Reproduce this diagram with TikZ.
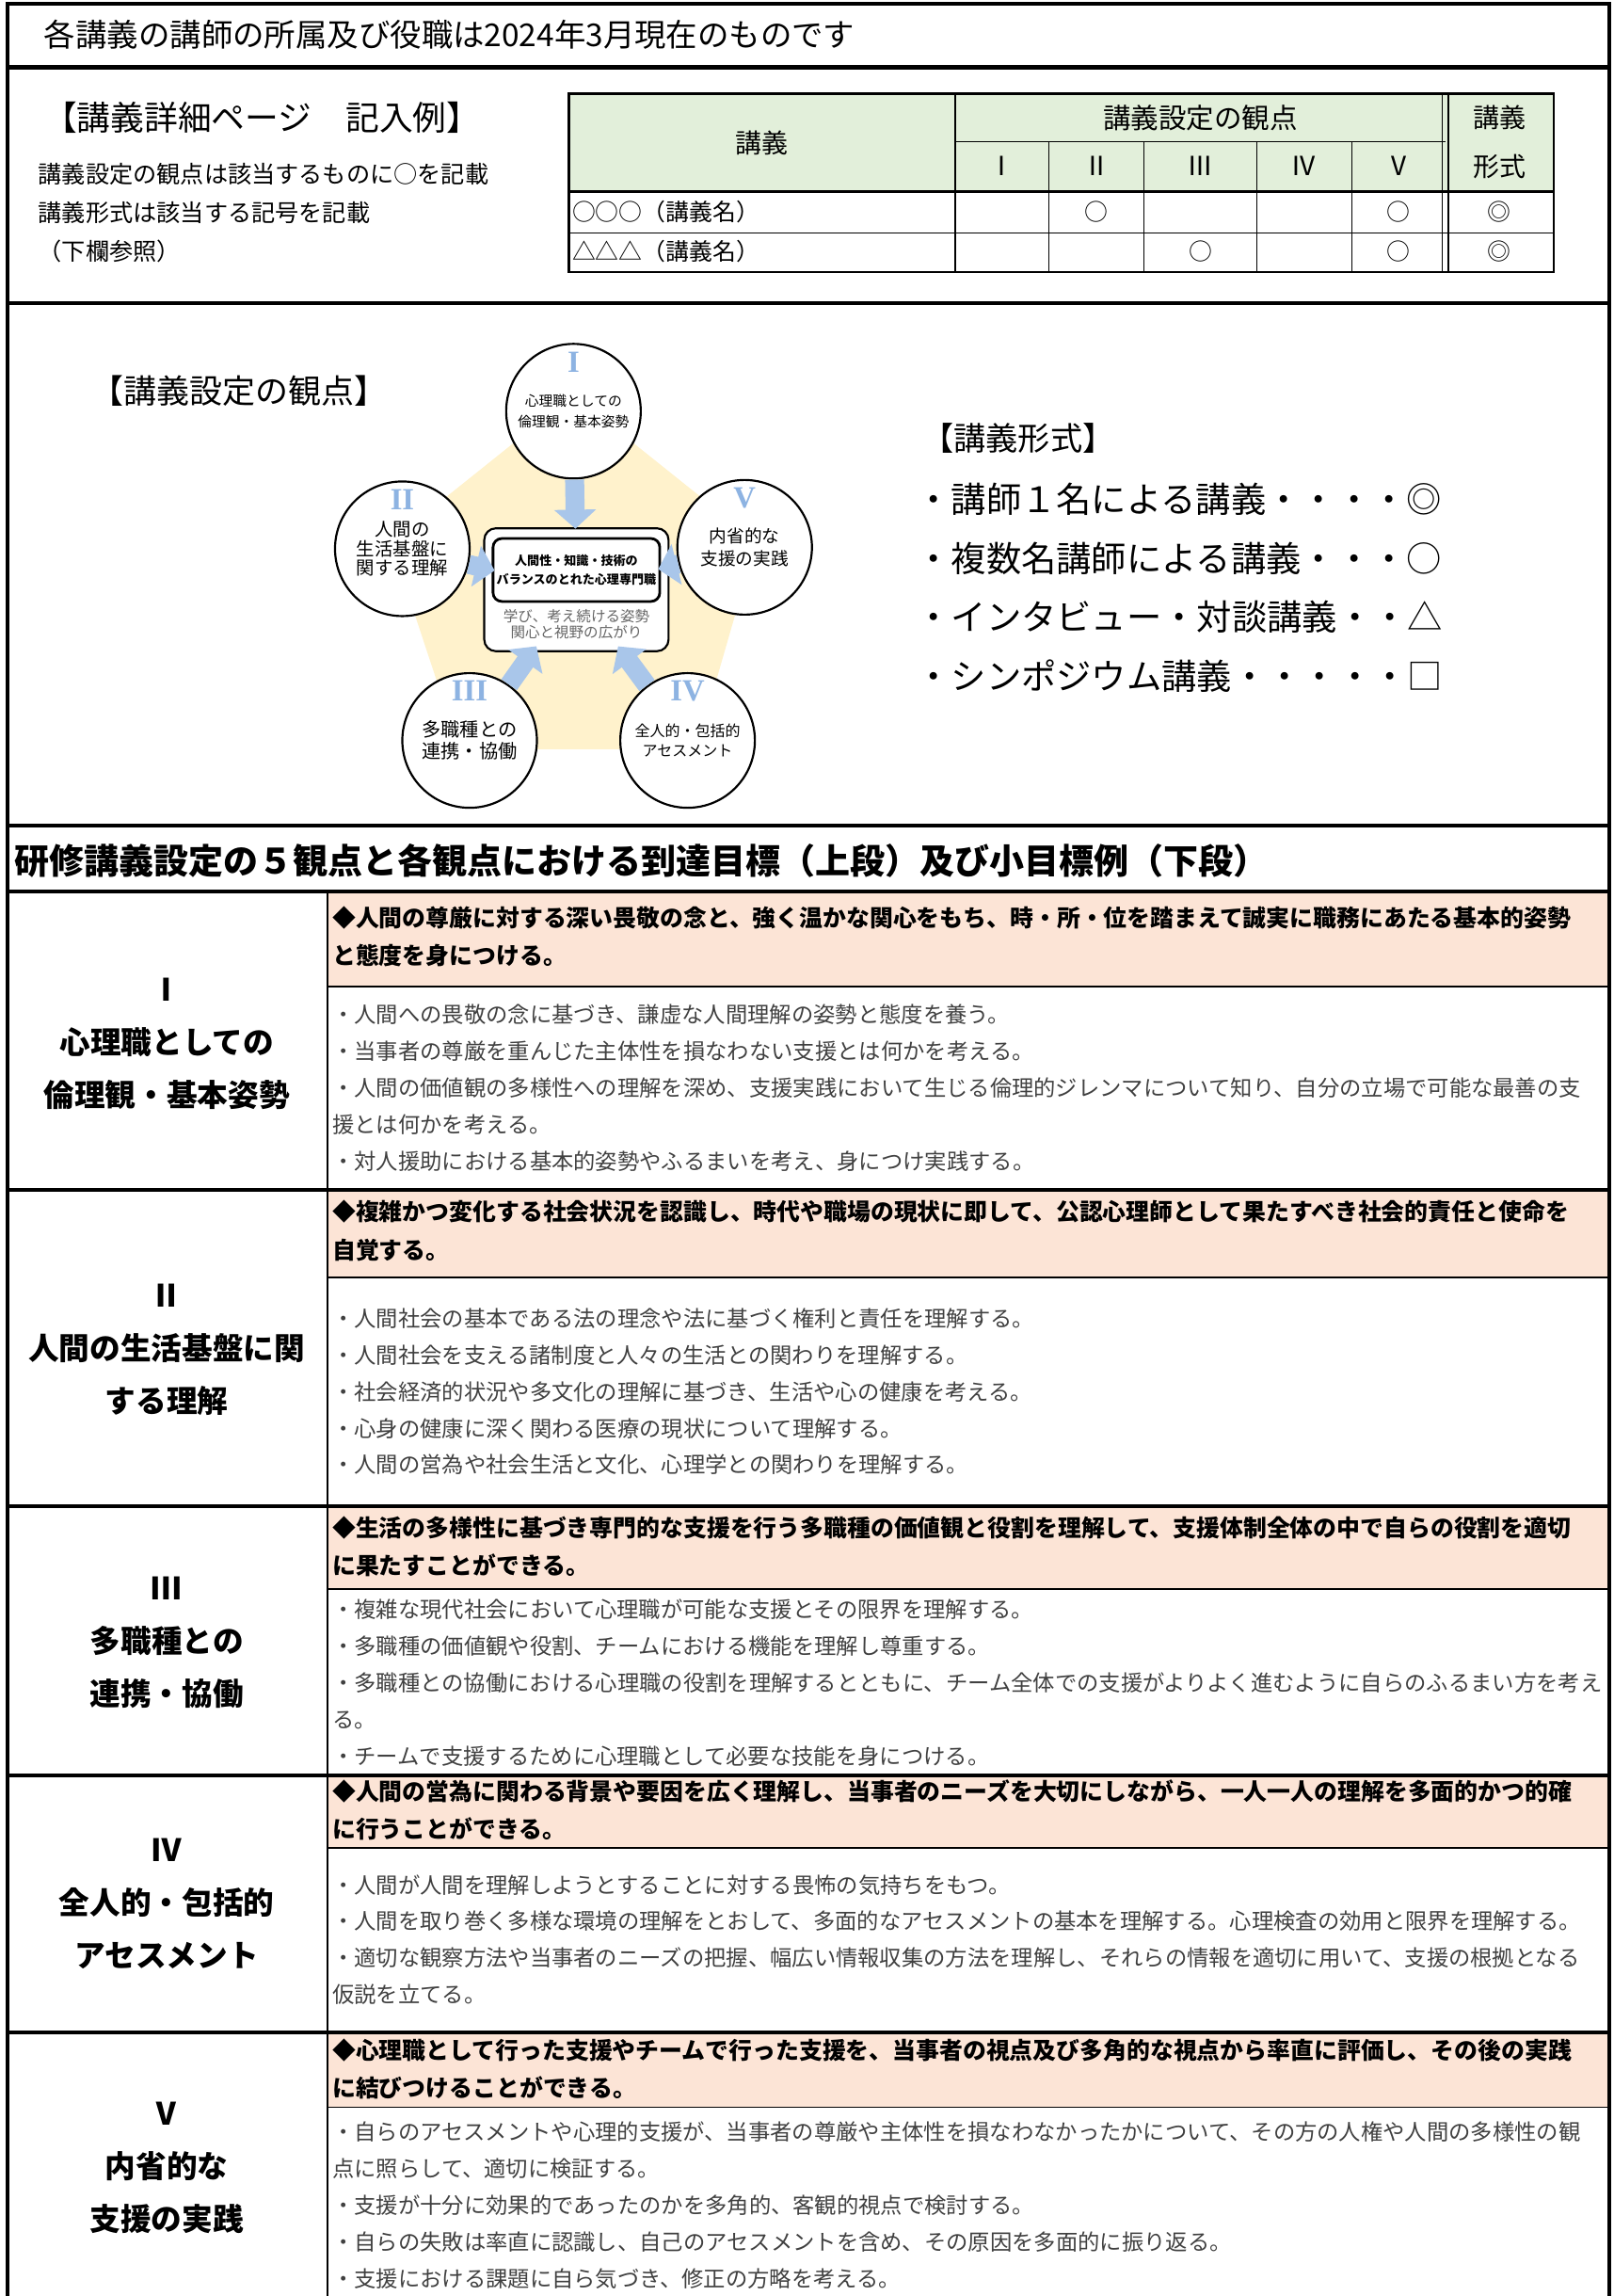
\documentclass[tikz,border=0pt]{standalone}
\usepackage{fontspec}
\setmainfont{Noto Sans CJK JP}
\newfontfamily\numfont{Liberation Serif}
\usetikzlibrary{arrows.meta,positioning,calc}
\definecolor{goalpink}{HTML}{FCE4D6}
\definecolor{headgreen}{HTML}{E2EFDA}
\definecolor{pentayellow}{HTML}{FFF2CC}
\definecolor{arrowblue}{HTML}{A9C6EA}
\definecolor{numblue}{HTML}{8DB3E2}
\definecolor{bodygray}{HTML}{404040}
\tikzset{
  outer rule/.style={line width=2.6pt},
  thin rule/.style={line width=1.2pt},
  grid rule/.style={line width=0.8pt},
  goal/.style={anchor=base west,inner sep=0pt,align=left,font=\bfseries\fontsize{16}{26}\selectfont},
  subgoal/.style={anchor=base west,inner sep=0pt,align=left,text=bodygray,font=\fontsize{15}{25}\selectfont},
  viewpoint/.style={anchor=base,inner sep=0pt,align=center,font=\bfseries\fontsize{21}{36}\selectfont},
  viewcircle/.style={circle,draw,line width=1.4pt,fill=white,minimum size=92pt,inner sep=0pt,align=center},
  numeral/.style={inner sep=0pt,text=numblue,font=\numfont\bfseries\fontsize{21}{21}\selectfont},
  block arrow/.style={arrowblue,line width=13pt,-{Triangle[width=28pt,length=13pt]}},
  tabcell/.style={inner sep=0pt,font=\fontsize{16}{16}\selectfont},
}
\begin{document}
\begin{tikzpicture}[x=1pt,y=-1pt]
\useasboundingbox (0,0) rectangle (1103,1569);
\foreach \t/\b in {609/674,813/873,1029/1086,1213/1263,1389/1440}
  \fill[goalpink] (224,\t) rectangle (1100,\b);
\foreach \b in {674,873,1086,1263,1440}
  \draw[thin rule] (224,\b) -- (1100,\b);
\draw[thin rule] (224,609) -- (224,1569);
\foreach \y in {46,207,564,609,813,1029,1213,1389}
  \draw[outer rule] (5,\y) -- (1100,\y);
\draw[outer rule] (5,1569) -- (5,2.3) -- (1100,2.3) -- (1100,1569);

\node[anchor=base west,inner sep=0pt,font=\fontsize{21.5}{21.5}\selectfont] (note) at (30,31.6) {各講義の講師の所属及び役職は2024年3月現在のものです};

\node[anchor=base,inner sep=0pt,font=\fontsize{23}{23}\selectfont] (sample) at (179,89) {【講義詳細ページ　記入例】};
\node[anchor=base west,inner sep=0pt,font=\fontsize{16.2}{26.5}\selectfont,align=left] (howto) at (26,177.8) {講義設定の観点は該当するものに○を記載\\講義形式は該当する記号を記載\\（下欄参照）};

\fill[headgreen] (389,64) rectangle (1062,131);
\foreach \x in {717,782,859,924}
  \draw[grid rule] (\x,97) -- (\x,186);
\draw[grid rule] (653,97) -- (988,97);
\draw[grid rule] (389,159) -- (1062,159);
\foreach \x in {986,990}
  \draw[grid rule] (\x,64) -- (\x,186);
\draw[line width=1.6pt] (653,64) -- (653,186);
\draw[line width=1.8pt] (389,131) -- (1062,131);
\draw[line width=1.6pt] (389,64) rectangle (1062,186);
\node[tabcell,font=\fontsize{18}{18}\selectfont] (lecture) at (521,97.6) {講義};
\node[tabcell,font=\fontsize{19}{19}\selectfont] (viewhead) at (820.5,80.4) {講義設定の観点};
\node[tabcell,font=\fontsize{18}{18}\selectfont] (formhead) at (1025,80.4) {講義};
\node[tabcell,font=\fontsize{18}{18}\selectfont] (formhead2) at (1025,113.7) {形式};
\foreach \x/\r [count=\i] in {685/Ⅰ,749.5/Ⅱ,820.5/Ⅲ,891.5/Ⅳ,956/Ⅴ}
  \node[tabcell,font=\fontsize{18}{18}\selectfont] (col\i) at (\x,113.7) {\r};
\node[tabcell,anchor=west] (row1) at (391,144.7) {○○○（講義名）};
\node[tabcell,anchor=west] (row2) at (391,171.6) {△△△（講義名）};
\foreach \x/\y [count=\i] in {749.5/144.7,956/144.7,820.5/171.6,956/171.6}
  \node[tabcell] (mark\i) at (\x,\y) {○};
\node[tabcell] (single1) at (1025,144.7) {◎};
\node[tabcell] (single2) at (1025,171.6) {◎};

\node[inner sep=0pt,font=\fontsize{22.5}{22.5}\selectfont] (viewtitle) at (163.5,267) {【講義設定の観点】};
\fill[pentayellow] (392,270) -- (517,370) -- (476,512) -- (314,512) -- (267,370) -- cycle;
\node[draw,fill=white,rounded corners=8pt,line width=1.4pt,minimum width=126pt,minimum height=84pt] (core) at (394,403) {};
\node[draw,rounded corners=6pt,line width=1.8pt,minimum width=114pt,minimum height=43pt,inner sep=0pt,align=center,font=\bfseries\fontsize{8.4}{13}\selectfont] (coretitle) at (394,389.5) {人間性・知識・技術の\\バランスのとれた心理専門職};
\node[inner sep=0pt,align=center,text=black!60,font=\fontsize{10}{11}\selectfont] (coresub) at (394,426.8) {学び、考え続ける姿勢\\関心と視野の広がり};
\node[viewcircle,font=\fontsize{9.5}{14}\selectfont] (v1) at (392,281) {心理職としての\\倫理観・基本姿勢};
\node[viewcircle,font=\fontsize{12.5}{13.3}\selectfont] (v2) at (275,375) {人間の\\生活基盤に\\関する理解};
\node[viewcircle,font=\fontsize{13}{15}\selectfont] (v3) at (321,506) {多職種との\\連携・協働};
\node[viewcircle,font=\fontsize{10.3}{13}\selectfont] (v4) at (470,506) {全人的・包括的\\アセスメント};
\node[viewcircle,font=\fontsize{12}{15}\selectfont] (v5) at (509,374) {内省的な\\支援の実践};
\foreach \c/\r in {v1/I,v2/II,v3/III,v4/IV,v5/V}
  \node[numeral] (num-\c) at ($(\c.north)+(0,13)$) {\r};
\foreach \c/\s in {v1/-1,v2/-8,v3/-5,v4/-5,v5/-8}
  \draw[block arrow,shorten >=\s pt] (\c) -- (core);

\node[inner sep=0pt,font=\fontsize{22}{22}\selectfont] (formtitle) at (696,299.5) {【講義形式】};
\node[anchor=west,inner sep=0pt,align=left,font=\fontsize{24}{40.3}\selectfont] (forms) at (626,401.5) {・講師１名による講義・・・・◎\\・複数名講師による講義・・・○\\・インタビュー・対談講義・・△\\・シンポジウム講義・・・・・□};

\node[anchor=base west,inner sep=0pt,font=\bfseries\fontsize{23.8}{23.8}\selectfont] (goalhead) at (10,597.5) {研修講義設定の５観点と各観点における到達目標（上段）及び小目標例（下段）};

\node[viewpoint] (p1) at (114,756) {Ⅰ\\心理職としての\\倫理観・基本姿勢};
\node[goal] (g1) at (227,659.1) {◆人間の尊厳に対する深い畏敬の念と、強く温かな関心をもち、時・所・位を踏まえて誠実に職務にあたる基本的姿勢\\と態度を身につける。};
\node[subgoal] (s1) at (227,799.2) {・人間への畏敬の念に基づき、謙虚な人間理解の姿勢と態度を養う。\\・当事者の尊厳を重んじた主体性を損なわない支援とは何かを考える。\\・人間の価値観の多様性への理解を深め、支援実践において生じる倫理的ジレンマについて知り、自分の立場で可能な最善の支\\援とは何かを考える。\\・対人援助における基本的姿勢やふるまいを考え、身につけ実践する。};

\node[viewpoint] (p2) at (114,965) {Ⅱ\\人間の生活基盤に関\\する理解};
\node[goal] (g2) at (227,860.1) {◆複雑かつ変化する社会状況を認識し、時代や職場の現状に即して、公認心理師として果たすべき社会的責任と使命を\\自覚する。};
\node[subgoal] (s2) at (227,1006.7) {・人間社会の基本である法の理念や法に基づく権利と責任を理解する。\\・人間社会を支える諸制度と人々の生活との関わりを理解する。\\・社会経済的状況や多文化の理解に基づき、生活や心の健康を考える。\\・心身の健康に深く関わる医療の現状について理解する。\\・人間の営為や社会生活と文化、心理学との関わりを理解する。};

\node[viewpoint] (p3) at (114,1165) {Ⅲ\\多職種との\\連携・協働};
\node[goal] (g3) at (227,1076.1) {◆生活の多様性に基づき専門的な支援を行う多職種の価値観と役割を理解して、支援体制全体の中で自らの役割を適切\\に果たすことができる。};
\node[subgoal] (s3) at (227,1205.7) {・複雑な現代社会において心理職が可能な支援とその限界を理解する。\\・多職種の価値観や役割、チームにおける機能を理解し尊重する。\\・多職種との協働における心理職の役割を理解するとともに、チーム全体での支援がよりよく進むように自らのふるまい方を考え\\る。\\・チームで支援するために心理職として必要な技能を身につける。};

\node[viewpoint] (p4) at (114,1344) {Ⅳ\\全人的・包括的\\アセスメント};
\node[goal] (g4) at (227,1256.1) {◆人間の営為に関わる背景や要因を広く理解し、当事者のニーズを大切にしながら、一人一人の理解を多面的かつ的確\\に行うことができる。};
\node[subgoal] (s4) at (227,1368.7) {・人間が人間を理解しようとすることに対する畏怖の気持ちをもつ。\\・人間を取り巻く多様な環境の理解をとおして、多面的なアセスメントの基本を理解する。心理検査の効用と限界を理解する。\\・適切な観察方法や当事者のニーズの把握、幅広い情報収集の方法を理解し、それらの情報を適切に用いて、支援の根拠となる\\仮説を立てる。};

\node[viewpoint] (p5) at (114,1524) {Ⅴ\\内省的な\\支援の実践};
\node[goal] (g5) at (227,1433.1) {◆心理職として行った支援やチームで行った支援を、当事者の視点及び多角的な視点から率直に評価し、その後の実践\\に結びつけることができる。};
\node[subgoal] (s5) at (227,1562.7) {・自らのアセスメントや心理的支援が、当事者の尊厳や主体性を損なわなかったかについて、その方の人権や人間の多様性の観\\点に照らして、適切に検証する。\\・支援が十分に効果的であったのかを多角的、客観的視点で検討する。\\・自らの失敗は率直に認識し、自己のアセスメントを含め、その原因を多面的に振り返る。\\・支援における課題に自ら気づき、修正の方略を考える。};
\end{tikzpicture}
\end{document}
